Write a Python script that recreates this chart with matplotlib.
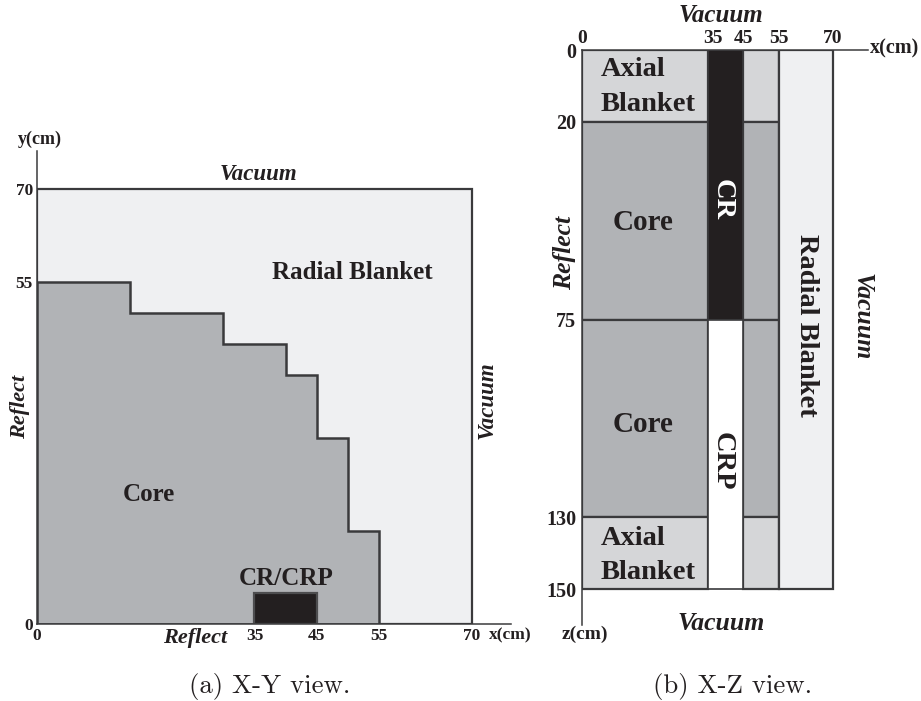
import matplotlib
matplotlib.use('Agg')
import matplotlib.pyplot as plt
from matplotlib.transforms import ScaledTranslation

plt.rcParams['font.family'] = ['Liberation Serif', 'DejaVu Serif']
plt.rcParams['font.weight'] = 'bold'

INK = '#231f20'
EDGE = '#3a3a3c'
CORE = '#b1b3b6'
RADIAL = '#eff0f2'
AXIAL = '#d5d6d8'

# X-Y view
core_x = [0, 0, 15, 15, 30, 30, 40, 40, 45, 45, 50, 50, 55, 55]
core_y = [0, 55, 55, 50, 50, 45, 45, 40, 40, 30, 30, 15, 15, 0]
blanket_x = [0, 0, 70, 70]
blanket_y = [0, 70, 70, 0]
rod_x = [35, 35, 45, 45]
rod_y = [0, 5, 5, 0]
xy_xticks = [0, 35, 45, 55, 70]
xy_yticks = [0, 55, 70]

# X-Z view, columns are (x start, x end), layers are (z start, z end)
xz_xticks = [0, 35, 45, 55, 70]
xz_zticks = [0, 20, 75, 130, 150]
inner_cols = [(0, 35), (45, 55)]
layers = [(0, 20), (20, 75), (75, 130), (130, 150)]
layer_cols = [AXIAL, CORE, CORE, AXIAL]
rod_layers = [(0, 75), (75, 150)]
rod_cols = [INK, 'white']
radial_col = (55, 70)
radial_z = (0, 150)

fig = plt.figure(figsize=(9.21, 7.01), dpi=100)

#left panel
ax = fig.add_axes([37/921, 77/701, 474/921, 473/701])
ax.fill(blanket_x, blanket_y, facecolor=RADIAL, edgecolor=EDGE, lw=1.6)
ax.fill(core_x, core_y, facecolor=CORE, edgecolor=EDGE, lw=1.8)
ax.fill(rod_x, rod_y, facecolor=INK, edgecolor='#4d4d4f', lw=1.6)
ax.set_xlim(0, 76.28)
ax.set_ylim(0, 76.1)
ax.set_xticks(xy_xticks)
ax.set_yticks(xy_yticks)
ax.tick_params(length=0, labelsize=12.5, labelcolor=INK, pad=3)
ax.patch.set_alpha(0)
for s in ['top', 'right']:
    ax.spines[s].set_visible(False)
for s in ['left', 'bottom']:
    ax.spines[s].set_color(EDGE)
    ax.spines[s].set_linewidth(1.1)

def label(a, x, y, s, size=16, rot=0, style='normal', ha='center', spacing=1.2):
    a.text(x, y, s, fontsize=size, rotation=rot, style=style, color=INK,
           ha=ha, va='center', clip_on=False, linespacing=spacing)

label(ax, 35.6, 72.3, 'Vacuum', 16.5, style='italic')
label(ax, 50.7, 56.5, 'Radial Blanket', 18)
label(ax, 18.0, 20.8, 'Core', 18)
label(ax, 40.1, 7.3, 'CR/CRP', 18)
label(ax, 25.4, -2.3, 'Reflect', 16, style='italic')
label(ax, -2.8, 34.9, 'Reflect', 16, rot=90, style='italic')
label(ax, 72.4, 36, 'Vacuum', 16.5, rot=90, style='italic')
label(ax, 0.4, 78, 'y(cm)', 13)
label(ax, 76.1, -1.9, 'x(cm)', 12.5)

#right panel
bx = fig.add_axes([582/921, 76/701, 286/921, 575/701])
for col in inner_cols:
    for lay, c in zip(layers, layer_cols):
        bx.bar(col[0], lay[1]-lay[0], width=col[1]-col[0], bottom=lay[0], align='edge',
               color=c, edgecolor=EDGE, lw=1.6)
for lay, c in zip(rod_layers, rod_cols):
    bx.bar(35, lay[1]-lay[0], width=10, bottom=lay[0], align='edge',
           color=c, edgecolor=EDGE, lw=1.2)
bx.bar(radial_col[0], radial_z[1]-radial_z[0], width=radial_col[1]-radial_col[0],
       bottom=radial_z[0], align='edge', color=RADIAL, edgecolor=EDGE, lw=1.6)
bx.set_xlim(0, 79.75)
bx.set_ylim(160, 0)
bx.set_xticks(xz_xticks)
bx.set_yticks(xz_zticks)
bx.xaxis.tick_top()
bx.tick_params(axis='y', length=0, labelsize=14.5, labelcolor=INK, pad=4)
bx.tick_params(axis='x', length=0, labelsize=14, labelcolor=INK, pad=2)
bx.patch.set_alpha(0)
for s in ['bottom', 'right']:
    bx.spines[s].set_visible(False)
for s in ['left', 'top']:
    bx.spines[s].set_color(EDGE)
    bx.spines[s].set_linewidth(1.1)
# the 35 label sits a little to the right of its line
lab35 = bx.get_xticklabels()[1]
lab35.set_transform(lab35.get_transform() + ScaledTranslation(0.05, 0, fig.dpi_scale_trans))

label(bx, 38.8, -9.6, 'Vacuum', 18, style='italic')
label(bx, 38.8, 159.5, 'Vacuum', 18.5, style='italic')
label(bx, 5.3, 10.3, 'Axial\nBlanket', 20.5, ha='left', spacing=1.5)
label(bx, 5.3, 140.6, 'Axial\nBlanket', 20.5, ha='left', spacing=1.5)
label(bx, 17, 48, 'Core', 21)
label(bx, 17, 104.3, 'Core', 21)
bx.text(39.1, 41.7, 'CR', fontsize=20.5, rotation=-90, color='white', ha='center', va='center')
label(bx, 39.1, 114.4, 'CRP', 20.5, rot=-90)
label(bx, 62.7, 76.5, 'Radial Blanket', 20.5, rot=-90)
label(bx, 78, 74.3, 'Vacuum', 18.5, rot=-90, style='italic')
label(bx, -4.8, 56.5, 'Reflect', 18.5, rot=90, style='italic')
label(bx, 0.8, 162.5, 'z(cm)', 14)
label(bx, 87.2, -0.5, 'x(cm)', 14.5)

#captions
fig.text(270/921, 1-686/701, '(a) X-Y view.', fontsize=19.3, family='cmr10', weight='normal',
         color=INK, ha='center', va='center')
fig.text(733/921, 1-686/701, '(b) X-Z view.', fontsize=19.3, family='cmr10', weight='normal',
         color=INK, ha='center', va='center')

plt.savefig('out.png', dpi=100)
plt.close()
